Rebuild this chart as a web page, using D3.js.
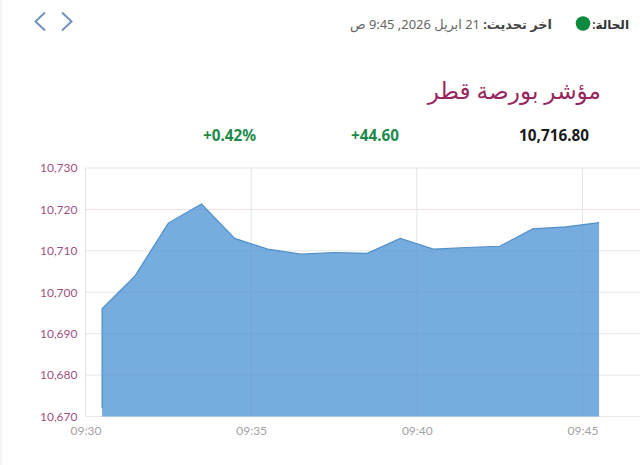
<!DOCTYPE html>
<html lang="ar">
<head>
<meta charset="utf-8">
<script src="https://cdn.jsdelivr.net/npm/d3@7/dist/d3.min.js"></script>
<style>
html,body{margin:0;padding:0;background:#fff;overflow:hidden}
svg{display:block}
text{font-family:"Noto Sans","DejaVu Sans",sans-serif}
.axis text{font-family:Lato,sans-serif;font-size:12px}
</style>
</head>
<body>
<svg id="c" width="640" height="465"></svg>
<script>
const minutes = [30.5,31.5,32.5,33.5,34.5,35.5,36.5,37.5,38.5,39.5,40.5,41.5,42.5,43.5,44.5,45.5];
const values = [10696,10704,10716.7,10721.3,10713,10710.4,10709.2,10709.6,10709.4,10713,10710.4,10710.8,10711.1,10715.3,10715.8,10716.8];
const openValue = 10672;
const yTicks = [10670,10680,10690,10700,10710,10720,10730];
const xTicks = [30,35,40,45];
const xEndMinute = 46.8;
const stats = ["10,716.80","+44.60","+0.42%"];

const toDate = m => new Date(2026,3,21,9,0,m*60);
const svg = d3.select("#c");
const x = d3.scaleTime().domain([toDate(30),toDate(45)]).range([85.5,582.5]);
const y = d3.scaleLinear().domain([10670,10730]).range([416.5,168]);
const right = x(toDate(xEndMinute));

svg.append("rect").attr("x",0).attr("y",0).attr("width",1.5).attr("height",465).attr("fill","#f0f0f0");

const yAxis = svg.append("g").attr("class","axis").attr("transform","translate(85.5,0)")
  .call(d3.axisLeft(y).tickValues(yTicks).tickFormat(d3.format(",")).tickSize(0).tickPadding(8));
yAxis.select(".domain").remove();
yAxis.selectAll("text").attr("fill","#a0527f");
const xAxis = svg.append("g").attr("class","axis").attr("transform","translate(0,416.5)")
  .call(d3.axisBottom(x).tickValues(xTicks.map(toDate)).tickFormat(d3.timeFormat("%H:%M")).tickSize(0).tickPadding(10));
xAxis.select(".domain").remove();
xAxis.selectAll("text").attr("fill","#a3a3a3");

svg.append("g").selectAll("line").data(yTicks).join("line")
  .attr("x1",85.5).attr("x2",right).attr("y1",d=>y(d)).attr("y2",d=>y(d))
  .attr("stroke",d=>d===10720?"#ecdfe6":"#e8e6e8").attr("stroke-width",1);
svg.append("g").selectAll("line").data(xTicks).join("line")
  .attr("x1",d=>x(toDate(d))).attr("x2",d=>x(toDate(d))).attr("y1",168).attr("y2",416.5)
  .attr("stroke","#e4e3e6").attr("stroke-width",1);

const pts = minutes.map((m,i)=>({t:toDate(m),v:values[i]}));
const area = d3.area().x(d=>x(d.t)).y0(y(10670)).y1(d=>y(d.v));
svg.append("path").datum(pts).attr("d",area).attr("fill","#4a90d4").attr("fill-opacity",.75);
const line = d3.line().x(d=>x(d.t)).y(d=>y(d.v));
const withOpen = [{t:pts[0].t,v:openValue},...pts];
svg.append("path").datum(withOpen).attr("d",line).attr("fill","none").attr("stroke","#4f8fc8").attr("stroke-width",1.2);

svg.append("text").attr("x",601).attr("y",99).attr("text-anchor","start").attr("direction","rtl")
  .attr("fill","#96285f").style("font-size","23.2px").text("مؤشر بورصة قطر");

const statX=[589,399,256], statCol=["#1a1a1a","#1f8a4c","#1f8a4c"];
svg.append("g").selectAll("text").data(stats).join("text")
  .attr("x",(d,i)=>statX[i]).attr("y",141).attr("text-anchor","end")
  .attr("fill",(d,i)=>statCol[i]).style("font-size","15.3px").style("font-weight",700)
  .attr("direction","ltr").text(d=>d);

svg.append("text").attr("x",629).attr("y",29).attr("text-anchor","start").attr("direction","rtl")
  .attr("fill","#333").style("font-size","12px").style("font-weight",600).text("الحالة:");
svg.append("circle").attr("cx",583).attr("cy",23.5).attr("r",7.3).attr("fill","#0c8a3e");
const upd = svg.append("text").attr("x",552).attr("y",29).attr("text-anchor","start").attr("direction","rtl")
  .attr("fill","#666").style("font-size","12.9px");
upd.append("tspan").attr("font-weight",700).attr("fill","#444").text("اخر تحديث: ");
upd.append("tspan").text("21 ابريل 2026, 9:45 ص");

svg.append("path").attr("d",d3.line()([[45,12.5],[35.5,21.5],[45,30.5]]))
  .attr("fill","none").attr("stroke","#6f94bd").attr("stroke-width",2);
svg.append("path").attr("d",d3.line()([[62,12.5],[71.5,21.5],[62,30.5]]))
  .attr("fill","none").attr("stroke","#6f94bd").attr("stroke-width",2);
</script>
</body>
</html>
